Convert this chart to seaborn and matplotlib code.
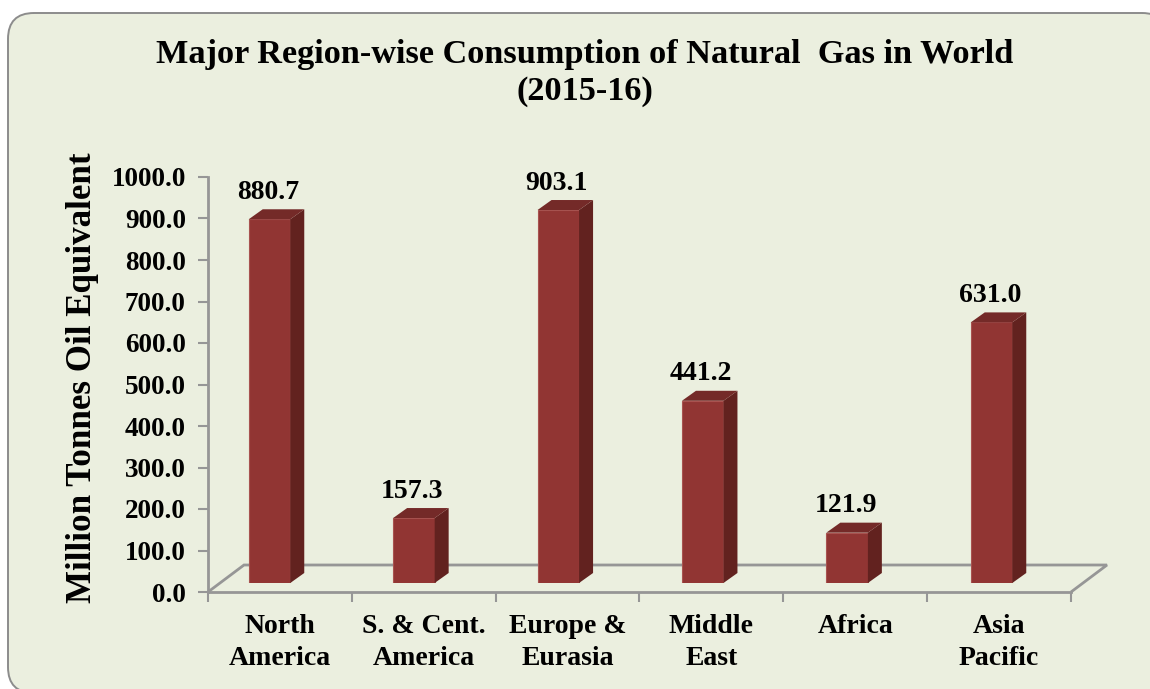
import matplotlib
matplotlib.use("Agg")
import matplotlib.pyplot as plt
import seaborn as sns
import pandas as pd
from matplotlib.patches import FancyBboxPatch, Polygon
from matplotlib.transforms import IdentityTransform

regions = ["North\nAmerica", "S. & Cent.\nAmerica", "Europe &\nEurasia",
           "Middle\nEast", "Africa", "Asia\nPacific"]
consumption = [880.7, 157.3, 903.1, 441.2, 121.9, 631.0]
y_ticks = [0, 100, 200, 300, 400, 500, 600, 700, 800, 900, 1000]
title_text = "Major Region-wise Consumption of Natural  Gas in World\n(2015-16)"
y_title = "Million Tonnes Oil Equivalent"

W, H = 1150, 689
FRONT = "#913533"
SIDE = "#62221F"
TOP = "#742A28"
GREY = "#969696"
BG = "#EBEFDF"
SERIF = "Liberation Serif"

sns.set_style("white")
plt.rcParams["font.family"] = [SERIF, "DejaVu Serif"]
plt.rcParams["font.weight"] = "bold"
plt.rcParams["text.color"] = "black"
plt.rcParams["xtick.labelcolor"] = "black"
plt.rcParams["ytick.labelcolor"] = "black"

fig = plt.figure(figsize=(W / 100, H / 100), dpi=100, facecolor="white")

# rounded panel, in pixels
panel = FancyBboxPatch((8, -4), 1160, H - 13 + 4,
                       boxstyle="round,pad=0,rounding_size=26",
                       transform=IdentityTransform(), fc=BG, ec="#8C8C8C", lw=1.4,
                       zorder=-5)
fig.add_artist(panel)

def box(l, t, r, b):
    return [l / W, 1 - b / H, (r - l) / W, (b - t) / H]

# axis frame with the floor
ax = fig.add_axes(box(208, 177, 1071, 592), facecolor="none")
ax.set_xlim(-0.5, 5.5)
ax.set_ylim(0, 1000)
ax.set_yticks(y_ticks)
ax.set_yticklabels([f"{v:.1f}" for v in y_ticks])
ax.set_xticks(range(len(regions)))
ax.set_xticklabels(regions, linespacing=1.36)
ax.set_xticks([i - 0.5 for i in range(len(regions) + 1)], minor=True)
ax.tick_params(axis="x", which="major", length=0, pad=16, labelsize=20, bottom=False)
ax.tick_params(axis="x", which="minor", length=7, width=1.5, color=GREY, direction="out", bottom=True)
ax.tick_params(axis="y", length=7, width=1.5, color=GREY, direction="out", pad=9,
               labelsize=19.5, left=True)
for s in ("top", "right"):
    ax.spines[s].set_visible(False)
for s in ("left", "bottom"):
    ax.spines[s].set_color(GREY)
    ax.spines[s].set_linewidth(2)
fx = 36 / (863 / 6)
fy = 27 / (415 / 1000)
ax.add_patch(Polygon([(-0.5, 0), (-0.5 + fx, fy), (5.5 + fx, fy), (5.5, 0)], closed=False,
                     fill=False, ec=GREY, lw=2, clip_on=False))

# bars, raised onto the floor
bx = fig.add_axes(box(208, 170, 1071, 583), facecolor="none")
df = pd.DataFrame({"region": regions, "value": consumption})
sns.barplot(data=df, x="region", y="value", color=FRONT, saturation=1, width=0.2875,
            ax=bx, edgecolor="#A85350", linewidth=0.8)
bx.set_xlim((208 - 269.5) / 144.4, (1071 - 269.5) / 144.4)
bx.set_ylim(0, 1000)
bx.axis("off")
dx = 14 / 144.4
dy = 10 / 0.413
half = 0.2875 / 2
for i, v in enumerate(consumption):
    l, r = i - half, i + half
    bx.add_patch(Polygon([(r, 0), (r + dx, dy), (r + dx, v + dy), (r, v)], fc=SIDE, ec="none", clip_on=False))
    bx.add_patch(Polygon([(l, v), (l + dx, v + dy), (r + dx, v + dy), (r, v)], fc=TOP, ec="none", clip_on=False))
    bx.annotate(f"{v:.1f}", (i, v + dy), xytext=(-1.5 * 0.72, 17 * 0.72), textcoords="offset points",
                ha="center", va="center", fontsize=20, fontweight="bold", color="black",
                annotation_clip=False)

fig.text(585 / W, 1 - 73 / H, title_text, ha="center", va="center", fontsize=24.7,
         fontweight="bold", linespacing=1.25, color="black")
fig.text(83 / W, 1 - 378 / H, y_title, rotation=90, ha="center", va="center",
         fontsize=25.2, fontweight="bold", color="black")

fig.savefig("out.png", dpi=100)
